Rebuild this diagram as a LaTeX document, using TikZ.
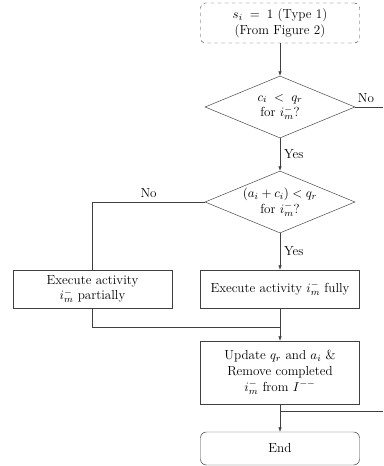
\documentclass[tikz,border=0pt]{standalone}
\usepackage{amsmath}
\usetikzlibrary{arrows.meta,shapes.geometric}
\tikzset{
    flow chart/.style = {>={Latex[length=1.3mm,width=1mm]}, x=0.3mm, y=-0.3mm,
                         every node/.style={font=\fontsize{11.2}{13.4}\selectfont}},
    line/.style       = {draw=black!75, thin},
    block/.style      = {draw=black!75, thin, fill=white, align=center,
                         minimum width=47.7mm, minimum height=11.4mm},
    startblock/.style = {block, dashed, rounded corners=4pt,
                         minimum height=12mm},
    endblock/.style   = {block, rounded corners=5pt, minimum height=9.9mm},
    decision/.style   = {diamond, draw=black!75, thin, align=center,
                         aspect=2.4, inner sep=0pt,
                         minimum width=45mm, minimum height=18.6mm},
    lbl/.style        = {}
}
\def\colmain{280}
\def\colleft{92.5}

\begin{document}
\begin{tikzpicture}[flow chart]
\useasboundingbox (0,0) rectangle (383,466);

% ================= Start and checks =================
\node[startblock] (start) at (\colmain,23)
    {$s_i \;=\; 1$ (Type 1)\\(From Figure 2)};
\node[decision] (fits) at (\colmain,107)
    {$c_i \;<\; q_r$\\for $i_m^-$?};
\node[decision] (fitsall) at (\colmain,202)
    {$(a_i + c_i) < q_r$\\for $i_m^-$?};

\draw[line,->] (start) -- (fits);
\draw[line,->] (fits) -- node[lbl, right] {Yes} (fitsall);

% exit to the right when the first check fails
\coordinate (noexit) at (383,107);
\draw[line] (fits.east) -- (noexit);
\node[lbl, anchor=south] at (366,107) {No};

% ================= Execution blocks =================
\node[block] (partial) at (\colleft,289)
    {Execute activity\\$i_m^-$ partially};
\node[block] (fully) at (\colmain,289)
    {Execute activity $i_m^-$ fully};

\draw[line,->] (fitsall) -- node[lbl, right] {Yes} (fully);
\draw[line] (fitsall.west) -- node[lbl, above] {No} (\colleft,202)
    -- (partial.north);

% ================= Update and end =================
\node[block, minimum height=18.9mm] (update) at (\colmain,372.5)
    {Update $q_r$ and $a_i$ \&\\Remove completed\\$i_m^-$ from $I^{--}$};
\node[endblock] (end) at (\colmain,448.5) {End};

\draw[line,->] (fully) -- (update);
\draw[line] (partial.south) |- (\colmain,327);
\draw[line,->] (update) -- (end);

% loop back to the right
\coordinate (loopexit) at (383,411);
\draw[line] (\colmain,411) -- (loopexit);

\end{tikzpicture}
\end{document}
